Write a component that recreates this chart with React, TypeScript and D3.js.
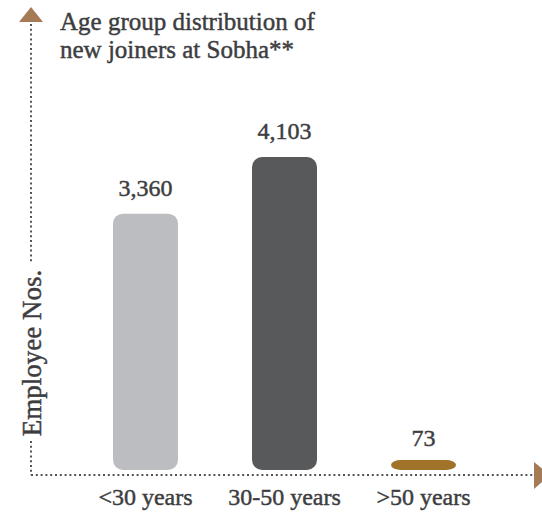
import React from "react";
import * as d3 from "d3";

const categories = ["<30 years", "30-50 years", ">50 years"];
const values = [3360, 4103, 73];
const valueLabels = ["3,360", "4,103", "73"];
const barColors = ["#bcbdc0", "#58595b", "#a0722a"];
const titleLines = ["Age group distribution of", "new joiners at Sobha**"];
const yLabel = "Employee Nos.";

const W = 542;
const H = 516;
const FONT = "'Liberation Serif', 'Times New Roman', serif";
const TEXT = "#3d3d3f";
const ARROW = "#a57b55";

export default function App() {
  const x = d3.scalePoint<string>().domain(categories).range([76, 493]).padding(0.5);
  const y = d3.scaleLinear().domain([0, 4500]).range([470, 126.7]);
  const barW = 65;
  const minH = 10;
  const heavy = { stroke: TEXT, strokeWidth: 0.45 };

  return (
    <svg width={W} height={H} style={{ position: "absolute", left: 0, top: 0 }}>
      {/* y axis dotted */}
      <line x1={31} x2={31} y1={24} y2={263} stroke="#555" strokeWidth={2} strokeDasharray="2 2.8" />
      <line x1={31} x2={31} y1={441} y2={475} stroke="#555" strokeWidth={2} strokeDasharray="2 2.8" />
      <path d="M31,7 L43,22 L19,22 Z" fill={ARROW} />
      {/* x axis dotted */}
      <line x1={31} x2={534} y1={475} y2={475} stroke="#555" strokeWidth={2} strokeDasharray="2 2.8" />
      <path d="M534,462 L550,475 L534,489 Z" fill={ARROW} />

      {titleLines.map((t, i) => (
        <text key={i} x={60} y={30 + i * 28} fontFamily={FONT} fontSize={25} fill={TEXT} {...heavy}>
          {t}
        </text>
      ))}

      <text
        transform={`translate(41,353) rotate(-90)`}
        textAnchor="middle"
        fontFamily={FONT}
        fontSize={27}
        fill={TEXT}
        {...heavy}
      >
        {yLabel}
      </text>

      {categories.map((c, i) => {
        const cx = x(c) as number;
        const top = Math.min(y(values[i]), y(0) - minH);
        return (
          <g key={c}>
            <rect
              x={cx - barW / 2}
              y={top}
              width={barW}
              height={y(0) - top}
              rx={10}
              ry={Math.min(10, (y(0) - top) / 2)}
              fill={barColors[i]}
            />
            <text x={cx} y={y(values[i]) - 18} textAnchor="middle" fontFamily={FONT} fontSize={24} fill={TEXT} {...heavy}>
              {valueLabels[i]}
            </text>
            <text x={cx} y={505} textAnchor="middle" fontFamily={FONT} fontSize={24} fill={TEXT} {...heavy}>
              {c}
            </text>
          </g>
        );
      })}
    </svg>
  );
}
